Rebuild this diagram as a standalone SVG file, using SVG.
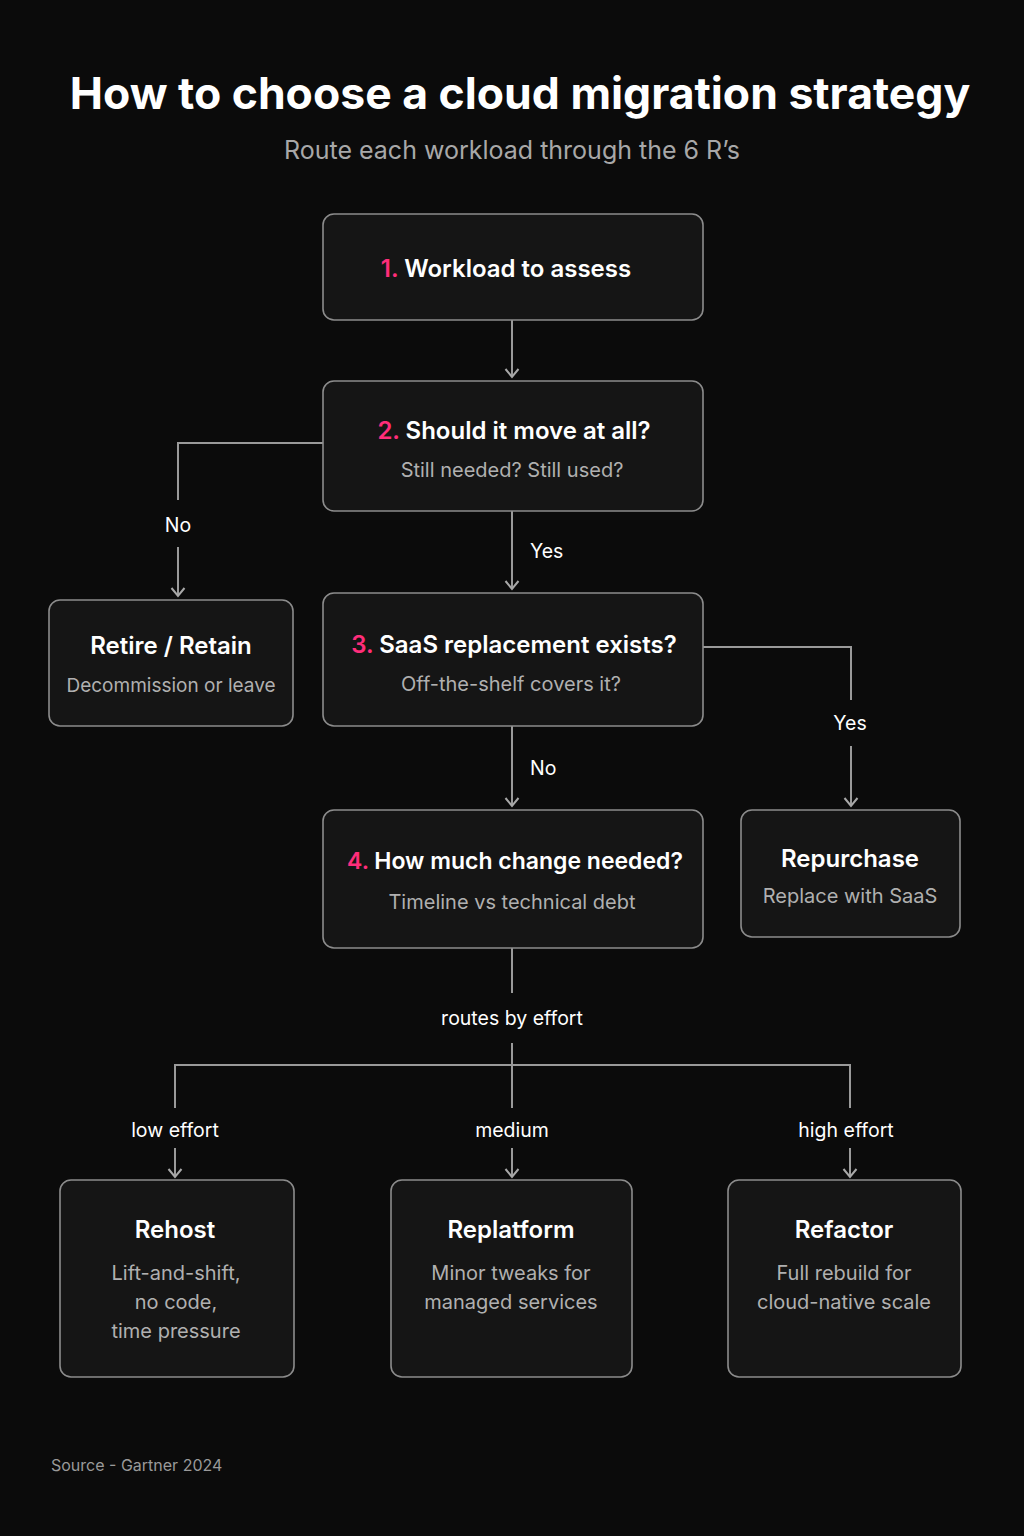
<svg xmlns="http://www.w3.org/2000/svg" width="1024" height="1536" viewBox="0 0 1024 1536">
  <defs>
    <!-- open chevron arrowhead, drawn pointing along +x so orient="auto" follows the line -->
    <marker id="arrow" viewBox="0 0 16 16" refX="14" refY="8" markerWidth="16" markerHeight="16" markerUnits="userSpaceOnUse" orient="auto">
      <path d="M6 1.5 L14 8 L6 14.5" fill="none" stroke="#a8a8a8" stroke-width="2"/>
    </marker>
    <style>
      text { font-family: Inter, "Noto Sans", "Liberation Sans", sans-serif; }
      .title { font-size: 44.5px; font-weight: 700; fill: #ffffff; }
      .subtitle { font-size: 25px; fill: #a8a8a8; }
      .box { fill: #151515; stroke: #8c8c8c; stroke-width: 1.6; }
      .head { font-size: 24px; font-weight: 600; fill: #ffffff; }
      .num { fill: #ff2d7a; }
      .sub { font-size: 20px; fill: #b0b0b0; }
      .lbl { font-size: 19.5px; fill: #ffffff; }
      .wire { fill: none; stroke: #9a9a9a; stroke-width: 2; }
      .foot { font-size: 16px; fill: #9a9a9a; }
    </style>
  </defs>

  <rect x="0" y="0" width="1024" height="1536" fill="#0b0b0b"/>

  <text class="title" x="520" y="109" text-anchor="middle">How to choose a cloud migration strategy</text>
  <text class="subtitle" x="512" y="159" text-anchor="middle">Route each workload through the 6 R’s</text>

  <!-- connectors -->
  <g id="connectors">
    <path class="wire" d="M512 320 V377" marker-end="url(#arrow)"/>
    <path class="wire" d="M323 443 H178 V500"/>
    <path class="wire" d="M178 547 V596" marker-end="url(#arrow)"/>
    <path class="wire" d="M512 511 V589" marker-end="url(#arrow)"/>
    <path class="wire" d="M703 647 H851 V700"/>
    <path class="wire" d="M851 746 V806" marker-end="url(#arrow)"/>
    <path class="wire" d="M512 726 V806" marker-end="url(#arrow)"/>
    <path class="wire" d="M512 948 V993"/>
    <path class="wire" d="M512 1043 V1108"/>
    <path class="wire" d="M175 1108 V1065 H850 V1108"/>
    <path class="wire" d="M175 1148 V1177" marker-end="url(#arrow)"/>
    <path class="wire" d="M512 1148 V1177" marker-end="url(#arrow)"/>
    <path class="wire" d="M850 1148 V1177" marker-end="url(#arrow)"/>

    <text class="lbl" x="178" y="532" text-anchor="middle">No</text>
    <text class="lbl" x="530" y="558">Yes</text>
    <text class="lbl" x="850" y="730" text-anchor="middle">Yes</text>
    <text class="lbl" x="530" y="775">No</text>
    <text class="lbl" x="512" y="1025" text-anchor="middle">routes by effort</text>
    <text class="lbl" x="175" y="1137" text-anchor="middle">low effort</text>
    <text class="lbl" x="512" y="1137" text-anchor="middle">medium</text>
    <text class="lbl" x="846" y="1137" text-anchor="middle">high effort</text>
  </g>

  <g id="n1">
    <rect class="box" x="323" y="214" width="380" height="106" rx="11"/>
    <text class="head" x="506" y="277" text-anchor="middle"><tspan class="num">1.</tspan> Workload to assess</text>
  </g>

  <g id="n2">
    <rect class="box" x="323" y="381" width="380" height="130" rx="11"/>
    <text class="head" x="514" y="439" text-anchor="middle"><tspan class="num">2.</tspan> Should it move at all?</text>
    <text class="sub" x="512" y="477" text-anchor="middle">Still needed? Still used?</text>
  </g>

  <g id="retire">
    <rect class="box" x="49" y="600" width="244" height="126" rx="11"/>
    <text class="head" x="171" y="654" text-anchor="middle">Retire / Retain</text>
    <text class="sub" x="171" y="692" text-anchor="middle" style="font-size:19px">Decommission or leave</text>
  </g>

  <g id="n3">
    <rect class="box" x="323" y="593" width="380" height="133" rx="11"/>
    <text class="head" x="514" y="653" text-anchor="middle"><tspan class="num">3.</tspan> SaaS replacement exists?</text>
    <text class="sub" x="511" y="691" text-anchor="middle">Off-the-shelf covers it?</text>
  </g>

  <g id="repurchase">
    <rect class="box" x="741" y="810" width="219" height="127" rx="11"/>
    <text class="head" x="850" y="867" text-anchor="middle">Repurchase</text>
    <text class="sub" x="850" y="903" text-anchor="middle">Replace with SaaS</text>
  </g>

  <g id="n4">
    <rect class="box" x="323" y="810" width="380" height="138" rx="11"/>
    <text class="head" x="515" y="869" text-anchor="middle" style="font-size:23px"><tspan class="num">4.</tspan> How much change needed?</text>
    <text class="sub" x="512" y="909" text-anchor="middle">Timeline vs technical debt</text>
  </g>

  <g id="rehost">
    <rect class="box" x="60" y="1180" width="234" height="197" rx="11"/>
    <text class="head" x="175" y="1238" text-anchor="middle">Rehost</text>
    <text class="sub" x="176" y="1280" text-anchor="middle">Lift-and-shift,</text>
    <text class="sub" x="176" y="1309" text-anchor="middle">no code,</text>
    <text class="sub" x="176" y="1338" text-anchor="middle">time pressure</text>
  </g>

  <g id="replatform">
    <rect class="box" x="391" y="1180" width="241" height="197" rx="11"/>
    <text class="head" x="511" y="1238" text-anchor="middle">Replatform</text>
    <text class="sub" x="511" y="1280" text-anchor="middle">Minor tweaks for</text>
    <text class="sub" x="511" y="1309" text-anchor="middle">managed services</text>
  </g>

  <g id="refactor">
    <rect class="box" x="728" y="1180" width="233" height="197" rx="11"/>
    <text class="head" x="844" y="1238" text-anchor="middle">Refactor</text>
    <text class="sub" x="844" y="1280" text-anchor="middle">Full rebuild for</text>
    <text class="sub" x="844" y="1309" text-anchor="middle">cloud-native scale</text>
  </g>

  <text class="foot" x="51" y="1471">Source - Gartner 2024</text>
</svg>
